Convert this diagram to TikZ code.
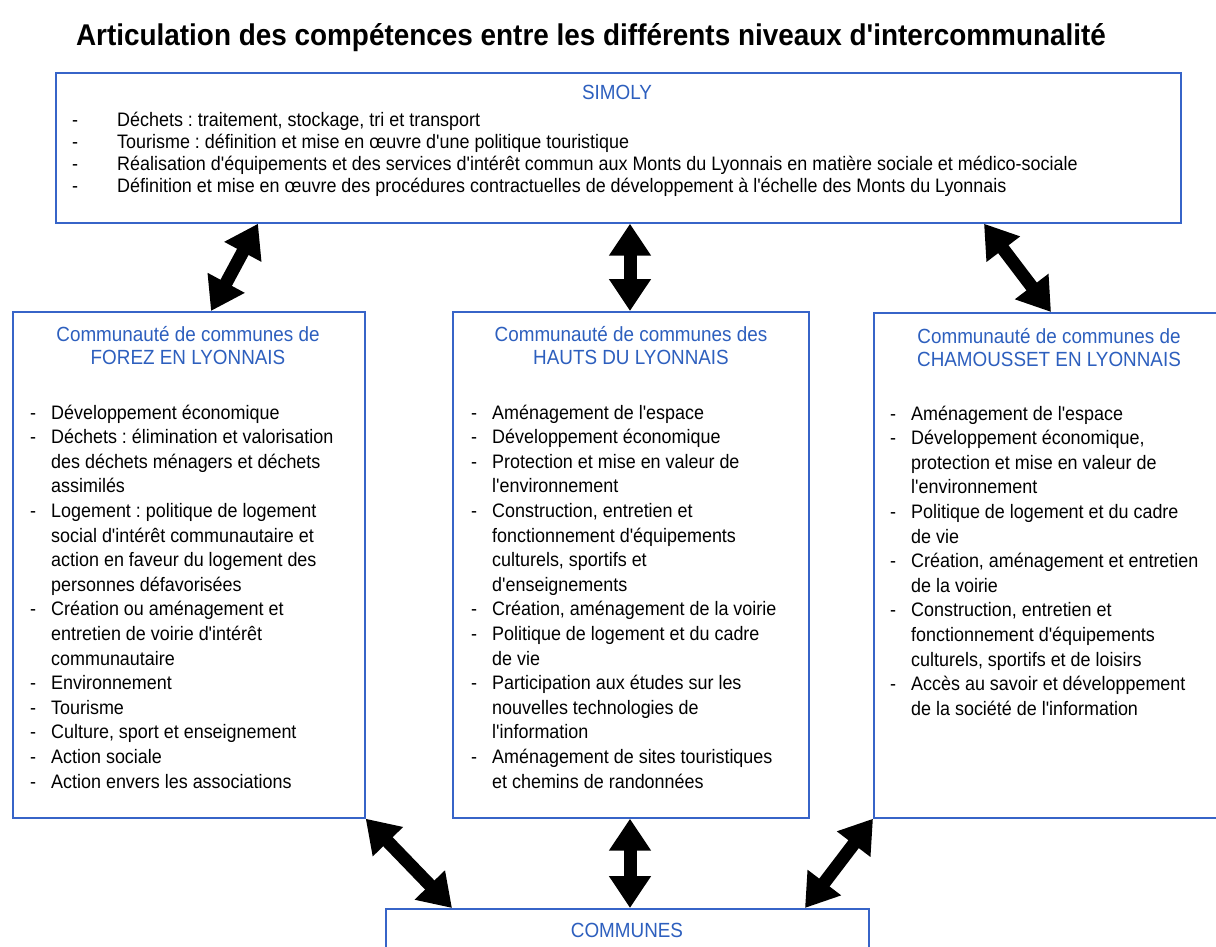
\documentclass[tikz,border=0pt]{standalone}
\usepackage{fontspec}
\newfontfamily\arialf{Liberation Sans}
\newfontfamily\arialn{Liberation Sans}[FakeStretch=0.92]
\newfontfamily\arialt{Liberation Sans}[FakeStretch=0.93]
\usetikzlibrary{arrows.meta}
\definecolor{boxblue}{RGB}{55,100,200}
\definecolor{txtblue}{RGB}{45,95,190}
\newcommand\Dl{\makebox[21pt][l]{-}}
\newcommand\Cl{\hspace*{21pt}}
\newcommand\Ds{\makebox[45pt][l]{-}}
\tikzset{
  panel/.style={draw=boxblue, line width=1.7pt, fill=white, anchor=north west, inner sep=0pt},
  bodytext/.style={anchor=base west, inner sep=0pt, font=\arialn\frenchspacing\fontsize{19.5}{24.6}\selectfont},
  simtext/.style={anchor=base west, inner sep=0pt, font=\arialn\frenchspacing\fontsize{19.5}{22}\selectfont},
  head/.style={anchor=base, inner sep=0pt, text=txtblue, font=\arialn\frenchspacing\fontsize{20.5}{23}\selectfont},
  dbl/.style={line width=13pt, {Triangle[length=32pt,width=40pt]}-{Triangle[length=32pt,width=40pt]}},
}
\begin{document}
\arialf\frenchspacing
\begin{tikzpicture}[x=1pt,y=-1pt]
\useasboundingbox (0,0) rectangle (1216,947);
\fill[white] (0,0) rectangle (1216,947);
\clip (0,0) rectangle (1216,947);

\node[anchor=base, inner sep=0pt, font=\arialt\bfseries\fontsize{30}{34}\selectfont] (title) at (591,46)
  {Articulation des compétences entre les différents niveaux d'intercommunalité};

% SIMOLY
\node[panel, minimum width=1125pt, minimum height=150pt] (simoly) at (55,72) {};
\node[head] (simolyh) at (617,100) {SIMOLY};
\node[simtext] (simolyb) at (72,127) {\parbox[t]{1100pt}{%
\Ds Déchets : traitement, stockage, tri et transport\\
\Ds Tourisme : définition et mise en œuvre d'une politique touristique\\
\Ds Réalisation d'équipements et des services d'intérêt commun aux Monts du Lyonnais en matière sociale et médico-sociale\\
\Ds Définition et mise en œuvre des procédures contractuelles de développement à l'échelle des Monts du Lyonnais}};

% FOREZ
\node[panel, minimum width=352pt, minimum height=506pt] (forez) at (12,311) {};
\node[head] (forezh) at (188,341) {\parbox[t]{340pt}{\centering Communauté de communes de\\FOREZ EN LYONNAIS}};
\node[bodytext] (forezb) at (30,419) {\parbox[t]{330pt}{%
\Dl Développement économique\\
\Dl Déchets : élimination et valorisation\\
\Cl des déchets ménagers et déchets\\
\Cl assimilés\\
\Dl Logement : politique de logement\\
\Cl social d'intérêt communautaire et\\
\Cl action en faveur du logement des\\
\Cl personnes défavorisées\\
\Dl Création ou aménagement et\\
\Cl entretien de voirie d'intérêt\\
\Cl communautaire\\
\Dl Environnement\\
\Dl Tourisme\\
\Dl Culture, sport et enseignement\\
\Dl Action sociale\\
\Dl Action envers les associations}};

% HAUTS
\node[panel, minimum width=356pt, minimum height=506pt] (hauts) at (452,311) {};
\node[head] (hautsh) at (631,341) {\parbox[t]{340pt}{\centering Communauté de communes des\\HAUTS DU LYONNAIS}};
\node[bodytext] (hautsb) at (471,419) {\parbox[t]{330pt}{%
\Dl Aménagement de l'espace\\
\Dl Développement économique\\
\Dl Protection et mise en valeur de\\
\Cl l'environnement\\
\Dl Construction, entretien et\\
\Cl fonctionnement d'équipements\\
\Cl culturels, sportifs et\\
\Cl d'enseignements\\
\Dl Création, aménagement de la voirie\\
\Dl Politique de logement et du cadre\\
\Cl de vie\\
\Dl Participation aux études sur les\\
\Cl nouvelles technologies de\\
\Cl l'information\\
\Dl Aménagement de sites touristiques\\
\Cl et chemins de randonnées}};

% CHAMOUSSET
\node[panel, minimum width=352pt, minimum height=505pt] (cham) at (873,312) {};
\node[head] (chamh) at (1049,343) {\parbox[t]{340pt}{\centering Communauté de communes de\\CHAMOUSSET EN LYONNAIS}};
\node[bodytext] (chamb) at (890,420) {\parbox[t]{330pt}{%
\Dl Aménagement de l'espace\\
\Dl Développement économique,\\
\Cl protection et mise en valeur de\\
\Cl l'environnement\\
\Dl Politique de logement et du cadre\\
\Cl de vie\\
\Dl Création, aménagement et entretien\\
\Cl de la voirie\\
\Dl Construction, entretien et\\
\Cl fonctionnement d'équipements\\
\Cl culturels, sportifs et de loisirs\\
\Dl Accès au savoir et développement\\
\Cl de la société de l'information}};

% COMMUNES
\node[panel, minimum width=483pt, minimum height=80pt] (communes) at (385,908) {};
\node[head] (communesh) at (627,937) {COMMUNES};

% arrows
\draw[dbl] (258,0 |- simoly.south) -- (211,0 |- forez.north);
\draw[dbl] (630,0 |- simoly.south) -- (630,0 |- hauts.north);
\draw[dbl] (984,0 |- simoly.south) -- (1051,0 |- cham.north);
\draw[dbl] (forez.south east) -- (452,0 |- communes.north);
\draw[dbl] (630,0 |- hauts.south) -- (630,0 |- communes.north);
\draw[dbl] (cham.south west) -- (805,0 |- communes.north);
\end{tikzpicture}
\end{document}
